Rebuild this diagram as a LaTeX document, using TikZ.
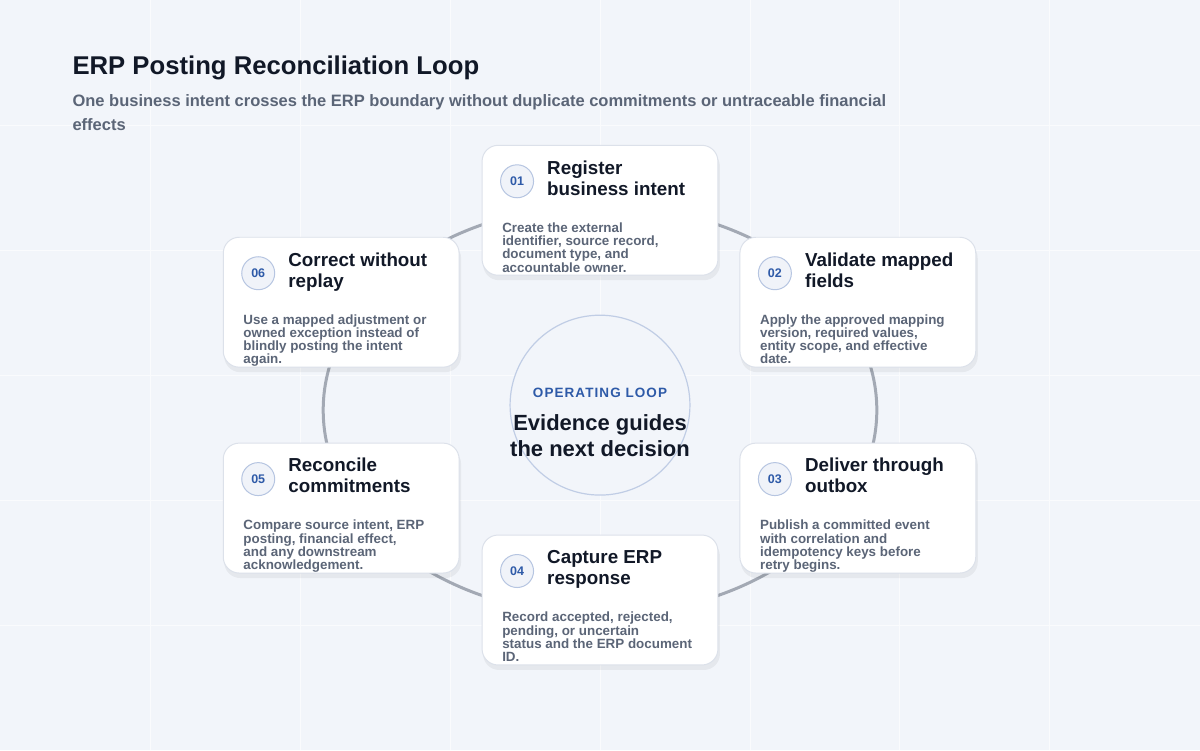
\documentclass[tikz,border=0pt]{standalone}
\usepackage{fontspec}
\setmainfont{Liberation Sans}
\begin{document}
\definecolor{bg}{HTML}{F2F5FA}
\definecolor{ink}{HTML}{111827}
\definecolor{sub}{HTML}{5B6577}
\definecolor{ring}{HTML}{A3A9B4}
\definecolor{blue}{HTML}{2E5AA8}
\definecolor{cbd}{HTML}{DCE1EA}
\begin{tikzpicture}[x=1pt,y=-1pt,
 card/.style={draw=cbd,line width=1pt,fill=white,rounded corners=16pt},
 num/.style={circle,draw=blue!35,line width=1pt,fill=blue!7,minimum size=33pt,inner sep=0pt,font=\fontsize{12.5}{12}\selectfont\bfseries,text=blue},
 ttl/.style={anchor=north west,align=left,inner sep=0pt,font=\fontsize{18.8}{21}\selectfont\bfseries,text=ink},
 body/.style={anchor=north west,align=left,inner sep=0pt,font=\fontsize{13.4}{13.3}\selectfont\bfseries,text=sub}]
\fill[bg] (0,0) rectangle (1200,750);
\foreach \x in {150,300,...,1050} \draw[white!60!bg,line width=0.8pt] (\x,0) -- (\x,750);
\foreach \y in {125,250,...,625} \draw[white!60!bg,line width=0.8pt] (0,\y) -- (1200,\y);
\useasboundingbox (0,0) rectangle (1200,750);
\node[anchor=west,inner sep=0pt,font=\fontsize{25.7}{26}\selectfont\bfseries,text=ink] (title) at (72,68) {ERP Posting Reconciliation Loop};
\node[anchor=north west,inner sep=0pt,align=left,font=\fontsize{16.5}{24}\selectfont\bfseries,text=sub] (subt) at (72,94) {One business intent crosses the ERP boundary without duplicate commitments or untraceable financial\\effects};
\draw[ring,line width=3pt] (600,410) ellipse [x radius=277, y radius=205];
\node[circle,draw=blue!30,line width=1.2pt,fill=blue!6,minimum size=180pt] (hub) at (600,405) {};
\node[font=\fontsize{13.5}{13}\selectfont\bfseries\addfontfeature{LetterSpace=8},text=blue] (op) at (600,393) {OPERATING LOOP};
\node[align=center,font=\fontsize{22}{26}\selectfont\bfseries,text=ink] (ev) at (600,436) {Evidence guides\\the next decision};
\foreach \n/\x/\y/\t/\b in {
 01/482/145/{Register\\business intent}/{Create the external\\identifier, source record,\\document type, and\\accountable owner.},
 02/740/237/{Validate mapped\\fields}/{Apply the approved mapping\\version, required values,\\entity scope, and effective\\date.},
 03/740/443/{Deliver through\\outbox}/{Publish a committed event\\with correlation and\\idempotency keys before\\retry begins.},
 04/482/535/{Capture ERP\\response}/{Record accepted, rejected,\\pending, or uncertain\\status and the ERP document\\ID.},
 05/223/443/{Reconcile\\commitments}/{Compare source intent, ERP\\posting, financial effect,\\and any downstream\\acknowledgement.},
 06/223/237/{Correct without\\replay}/{Use a mapped adjustment or\\owned exception instead of\\blindly posting the intent\\again.}}{
 \fill[black,opacity=0.05,rounded corners=16pt] (\x+1,\y+5) rectangle (\x+238,\y+135);
 \begin{scope}
 \path[clip,rounded corners=16pt] (\x,\y) rectangle (\x+236,\y+130);
 \fill[white] (\x,\y) rectangle (\x+236,\y+130);
 \node[num] (n\n) at (\x+35,\y+36) {\n};
 \node[ttl] (t\n) at (\x+65,\y+15) {\t};
 \node[body] (b\n) at (\x+20,\y+77) {\b};
 \end{scope}
 \draw[cbd,line width=1pt,rounded corners=16pt] (\x,\y) rectangle (\x+236,\y+130);
}
\end{tikzpicture}
\end{document}
